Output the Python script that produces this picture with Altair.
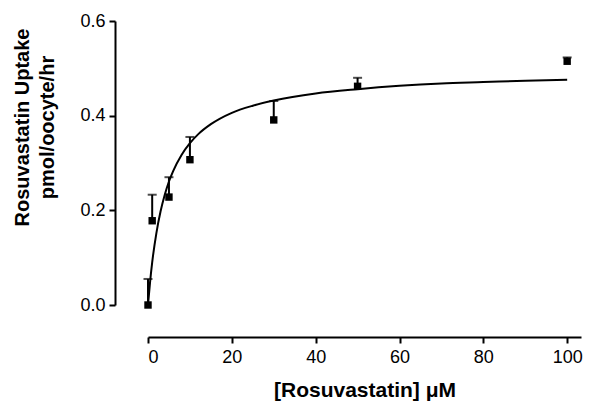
import altair as alt
import pandas as pd

# measured points
conc = [0, 1, 5, 10, 30, 50, 100]
uptake = [0.0, 0.178, 0.228, 0.307, 0.391, 0.462, 0.515]
upper = [0.055, 0.233, 0.270, 0.355, 0.431, 0.480, 0.523]

# fitted curve
curve_x = [0, 0.5, 1, 2, 3, 4, 5, 6, 8, 10, 12, 15, 20, 25, 30, 40, 50, 60, 70, 80, 90, 100]
curve_y = [0.0, 0.049, 0.090, 0.152, 0.198, 0.233, 0.261, 0.283, 0.317, 0.342, 0.361, 0.382,
           0.406, 0.421, 0.432, 0.447, 0.456, 0.463, 0.468, 0.471, 0.474, 0.476]

pts = pd.DataFrame({"x": conc, "y": uptake, "hi": upper})
cur = pd.DataFrame({"x": curve_x, "y": curve_y})

FONT = "Liberation Sans"

xs = alt.Scale(domain=[0, 103.3], nice=False, zero=False)
ys = alt.Scale(domain=[0, 0.6], nice=False)

xax = alt.Axis(values=[0, 20, 40, 60, 80, 100], format="d", offset=32, grid=False,
               domainWidth=2, tickWidth=2, tickSize=6, labelPadding=5,
               labelFont=FONT, labelFontSize=18, labelColor="black",
               title="[Rosuvastatin] \u03bcM", titleFont=FONT, titleFontSize=21,
               titleFontWeight="bold", titleColor="black", titlePadding=13,
               domainColor="black", tickColor="black")
yax = alt.Axis(values=[0, 0.2, 0.4, 0.6], format=".1f", offset=33, grid=False,
               domainWidth=2, tickWidth=2, tickSize=6, labelPadding=4,
               labelFont=FONT, labelFontSize=18, labelColor="black",
               title=["Rosuvastatin Uptake", "pmol/oocyte/hr"], titleFont=FONT,
               titleFontSize=20, titleFontWeight="bold", titleColor="black",
               titleLineHeight=25, titlePadding=22, titleY=106,
               domainColor="black", tickColor="black")

line = alt.Chart(cur).mark_line(color="black", strokeWidth=2, interpolate="monotone").encode(
    x=alt.X("x:Q", scale=xs, axis=xax),
    y=alt.Y("y:Q", scale=ys, axis=yax),
)
bars = alt.Chart(pts).mark_rule(color="black", strokeWidth=2).encode(
    x=alt.X("x:Q", scale=xs), y=alt.Y("y:Q", scale=ys), y2="hi:Q"
)
caps = alt.Chart(pts).mark_tick(color="black", thickness=2, size=9, orient="horizontal").encode(
    x=alt.X("x:Q", scale=xs), y=alt.Y("hi:Q", scale=ys)
)
dots = alt.Chart(pts).mark_square(color="black", opacity=1, size=55).encode(
    x=alt.X("x:Q", scale=xs), y=alt.Y("y:Q", scale=ys)
)

chart = alt.layer(line, bars, caps, dots).properties(
    width=433, height=284,
    background="white",
    autosize=alt.AutoSizeParams(type="none"),
    padding={"left": 140, "top": 13, "right": 2, "bottom": 96},
).configure_view(strokeWidth=0, stroke="transparent").configure_axis(grid=False)

chart.save("out.html", embed_options={"renderer": "svg", "actions": False})
